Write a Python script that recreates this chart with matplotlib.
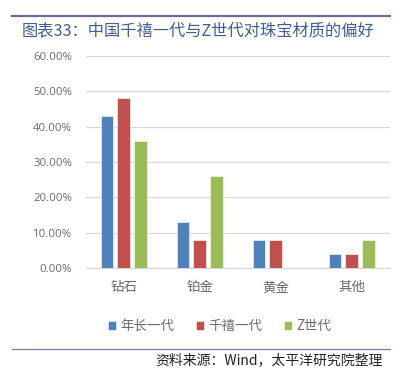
import matplotlib
matplotlib.use("Agg")
import matplotlib.pyplot as plt
import numpy as np
from matplotlib.ticker import FuncFormatter

plt.rcParams['font.family'] = ['Noto Sans CJK SC', 'DejaVu Sans']

categories = ["钻石", "铂金", "黄金", "其他"]
series_names = ["年长一代", "千禧一代", "Z世代"]
elder = [43, 13, 8, 4]
millennial = [48, 8, 8, 4]
genz = [36, 26, 0, 8]
colors = ["#4f81bd", "#c0504d", "#9bbb59"]
yticks = [0, 10, 20, 30, 40, 50, 60]

fig = plt.figure(figsize=(4.13, 3.74), dpi=100)
ax = fig.add_axes([0.208, 0.284, 0.736, 0.566])

x = np.arange(len(categories))
w = 0.17
off = 0.222
for i, (vals, c, name) in enumerate(zip([elder, millennial, genz], colors, series_names)):
    ax.bar(x + (i - 1) * off, np.array(vals) / 100.0, width=w, color=c, label=name,
           edgecolor="white", linewidth=0.4, zorder=3)

ax.set_xlim(-0.5, len(categories) - 0.5)
ax.set_ylim(0, 0.6)
ax.set_yticks([t / 100 for t in yticks])
ax.yaxis.set_major_formatter(FuncFormatter(lambda v, p: f"{v*100:.2f}%"))
ax.set_xticks(x)
ax.set_xticklabels(categories, fontsize=9.7, color="#6a6a6a", fontweight="light")
ax.tick_params(axis='y', labelsize=8.2, labelcolor="#6a6a6a", length=0, pad=10)
ax.tick_params(axis='x', length=0, pad=9)
for lab in ax.get_yticklabels():
    lab.set_family(['Open Sans', 'DejaVu Sans'])
ax.grid(axis='y', color="#d9d9d9", linewidth=0.9, zorder=0)
for s in ["top", "right", "left"]:
    ax.spines[s].set_visible(False)
ax.spines["bottom"].set_color("#d9d9d9")
ax.spines["bottom"].set_linewidth(0.9)

leg = ax.legend(loc="upper center", bbox_to_anchor=(0.44, -0.185), ncol=3, frameon=False,
                fontsize=9.7, handlelength=0.6, handleheight=0.6, handletextpad=0.3,
                columnspacing=1.6, labelcolor="#6a6a6a",
                prop={'family': ['Noto Sans CJK SC', 'DejaVu Sans'], 'size': 9.7, 'weight': 'light'})

# header line and title
fig.add_artist(plt.Line2D([12 / 413, 390 / 413], [1 - 16 / 374, 1 - 16 / 374],
                          color="#6b6b93", linewidth=1.6))
fig.text(22 / 413, 1 - 31 / 374, "图表33：中国千禧一代与Z世代对珠宝材质的偏好",
         fontsize=11.7, color="#3f5f8f", va="center", ha="left", fontweight="light")

# footer line and source
fig.add_artist(plt.Line2D([12 / 413, 390 / 413], [1 - 349 / 374, 1 - 349 / 374],
                          color="#7b7ba0", linewidth=0.9))
fig.text(383 / 413, 1 - 360 / 374, "资料来源：Wind，太平洋研究院整理",
         fontsize=10, color="#222222", va="center", ha="right", style="italic")

fig.savefig("out.png", dpi=100)
